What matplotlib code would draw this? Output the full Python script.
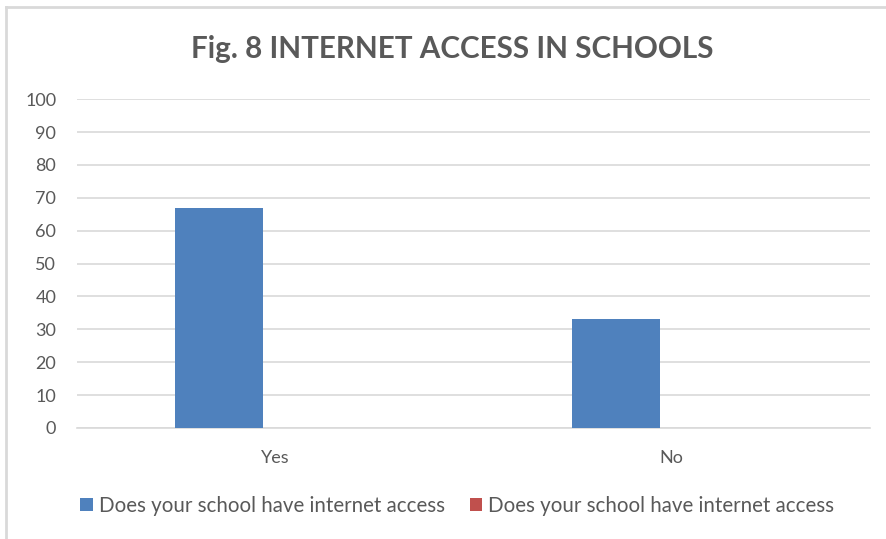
import matplotlib.pyplot as plt
import matplotlib.lines as lines
import matplotlib.patches as patches
import numpy as np

plt.rcParams['font.family'] = ['Lato', 'DejaVu Sans']

categories = ['Yes', 'No']
series_a = [67, 33]
series_b = [0, 0]
series_names = ['Does your school have internet access',
                'Does your school have internet access']
y_ticks = list(range(0, 101, 10))

colors = {
    'a': '#4F81BD',
    'b': '#C0504D',
    'grid': '#D9D9D9',
    'text': '#595959',
}


def draw():
    fig = plt.figure(figsize=(8.86, 5.39), dpi=100)
    ax = fig.add_axes([0.0869, 0.206, 0.895, 0.610])

    x = np.arange(len(categories))
    width = 0.222
    ax.bar(x - 0.141, series_a, width, color=colors['a'], zorder=3)
    ax.bar(x + 0.081, series_b, width, color=colors['b'], zorder=3)

    ax.set_xlim(-0.5, len(categories) - 0.5)
    ax.set_ylim(0, 100)
    ax.set_yticks(y_ticks)
    ax.set_xticks(x)
    ax.set_xticklabels(categories)
    ax.yaxis.grid(True, color=colors['grid'], linewidth=1.2)
    ax.set_axisbelow(True)
    for s in ['top', 'right', 'left']:
        ax.spines[s].set_visible(False)
    ax.spines['bottom'].set_color(colors['grid'])
    ax.spines['bottom'].set_linewidth(1.2)
    ax.tick_params(length=0, labelsize=13, colors=colors['text'])
    ax.tick_params(axis='y', pad=15)
    ax.tick_params(axis='x', pad=16)

    fig.text(0.511, 0.91, 'Fig. 8 INTERNET ACCESS IN SCHOOLS', ha='center', va='center',
             fontsize=21.3, fontweight='bold', color=colors['text'])

    handles = [patches.Patch(facecolor=colors['a'], label=series_names[0]),
               patches.Patch(facecolor=colors['b'], label=series_names[1])]
    fig.legend(handles=handles, loc='center', bbox_to_anchor=(0.516, 0.061), ncol=2,
               frameon=False, fontsize=14.8, labelcolor=colors['text'],
               handlelength=0.6, handleheight=0.6, handletextpad=0.3,
               columnspacing=1.2)

    # outer chart border (left and top)
    fig.add_artist(lines.Line2D([0.007, 0.007], [0, 0.987], color=colors['grid'], lw=2))
    fig.add_artist(lines.Line2D([0.007, 1], [0.987, 0.987], color=colors['grid'], lw=2))

    fig.savefig('out.png', dpi=100)


if __name__ == '__main__':
    draw()
